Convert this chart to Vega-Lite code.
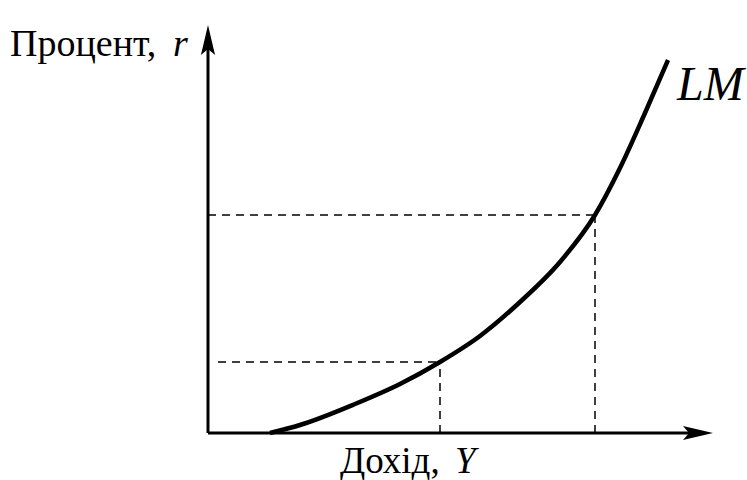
{
  "$schema": "https://vega.github.io/schema/vega-lite/v6.json",
  "width": 747,
  "height": 480,
  "padding": 0,
  "autosize": {"type": "fit", "contains": "padding"},
  "config": {"view": {"stroke": null}},
  "data": {"values": [{}]},
  "datasets": {
    "curve": [
      {"Y": 62, "r": 0},
      {"Y": 92, "r": 8},
      {"Y": 147, "r": 29},
      {"Y": 192, "r": 49},
      {"Y": 232, "r": 71},
      {"Y": 272, "r": 97},
      {"Y": 312, "r": 131},
      {"Y": 352, "r": 171},
      {"Y": 387, "r": 218},
      {"Y": 412, "r": 265},
      {"Y": 437, "r": 320},
      {"Y": 460, "r": 373}
    ],
    "guides": [
      {"x1": 10, "y1": 71, "x2": 232, "y2": 71},
      {"x1": 232, "y1": 0, "x2": 232, "y2": 71},
      {"x1": 0, "y1": 218, "x2": 387, "y2": 218},
      {"x1": 387, "y1": 0, "x2": 387, "y2": 218}
    ]
  },
  "layer": [
    {
      "data": {"name": "guides"},
      "mark": {"type": "rule", "color": "black", "strokeWidth": 1.5, "strokeDash": [8, 6]},
      "encoding": {
        "x": {"field": "x1", "type": "quantitative", "scale": {"domain": [-208, 539], "nice": false, "zero": false}, "axis": null},
        "y": {"field": "y1", "type": "quantitative", "scale": {"domain": [-47, 433], "nice": false, "zero": false}, "axis": null},
        "x2": {"field": "x2"},
        "y2": {"field": "y2"}
      }
    },
    {
      "mark": {"type": "rule", "color": "black", "strokeWidth": 3},
      "encoding": {"x": {"datum": 0}, "y": {"datum": 0}, "y2": {"datum": 385}}
    },
    {
      "mark": {"type": "rule", "color": "black", "strokeWidth": 3},
      "encoding": {"x": {"datum": 0}, "x2": {"datum": 495}, "y": {"datum": 0}}
    },
    {
      "mark": {"type": "point", "filled": true, "color": "black", "opacity": 1, "size": 900, "shape": "M1,0 L-1,-0.47 L-0.6,0 L-1,0.47 Z"},
      "encoding": {"x": {"datum": 490}, "y": {"datum": 0}}
    },
    {
      "mark": {"type": "point", "filled": true, "color": "black", "opacity": 1, "size": 900, "shape": "M0,-1 L-0.47,1 L0,0.6 L0.47,1 Z"},
      "encoding": {"x": {"datum": 0}, "y": {"datum": 393}}
    },
    {
      "data": {"name": "curve"},
      "mark": {"type": "line", "color": "black", "strokeWidth": 4.5, "interpolate": "monotone"},
      "encoding": {
        "x": {"field": "Y", "type": "quantitative"},
        "y": {"field": "r", "type": "quantitative"}
      }
    },
    {
      "mark": {"type": "text", "text": "Процент,", "font": "Liberation Serif, DejaVu Serif, serif", "fontSize": 38, "align": "left", "baseline": "alphabetic", "color": "black"},
      "encoding": {"x": {"datum": -198}, "y": {"datum": 377}}
    },
    {
      "mark": {"type": "text", "text": "r", "font": "Liberation Serif, DejaVu Serif, serif", "fontSize": 38, "fontStyle": "italic", "align": "left", "baseline": "alphabetic", "color": "black"},
      "encoding": {"x": {"datum": -35}, "y": {"datum": 377}}
    },
    {
      "mark": {"type": "text", "text": "Дохід,", "font": "Liberation Serif, DejaVu Serif, serif", "fontSize": 37, "align": "left", "baseline": "alphabetic", "color": "black"},
      "encoding": {"x": {"datum": 132}, "y": {"datum": -40}}
    },
    {
      "mark": {"type": "text", "text": "Y", "font": "Liberation Serif, DejaVu Serif, serif", "fontSize": 37, "fontStyle": "italic", "align": "left", "baseline": "alphabetic", "color": "black"},
      "encoding": {"x": {"datum": 247}, "y": {"datum": -40}}
    },
    {
      "mark": {"type": "text", "text": "LM", "font": "Liberation Serif, DejaVu Serif, serif", "fontSize": 48, "fontStyle": "italic", "align": "left", "baseline": "alphabetic", "color": "black"},
      "encoding": {"x": {"datum": 469}, "y": {"datum": 333}}
    }
  ]
}
